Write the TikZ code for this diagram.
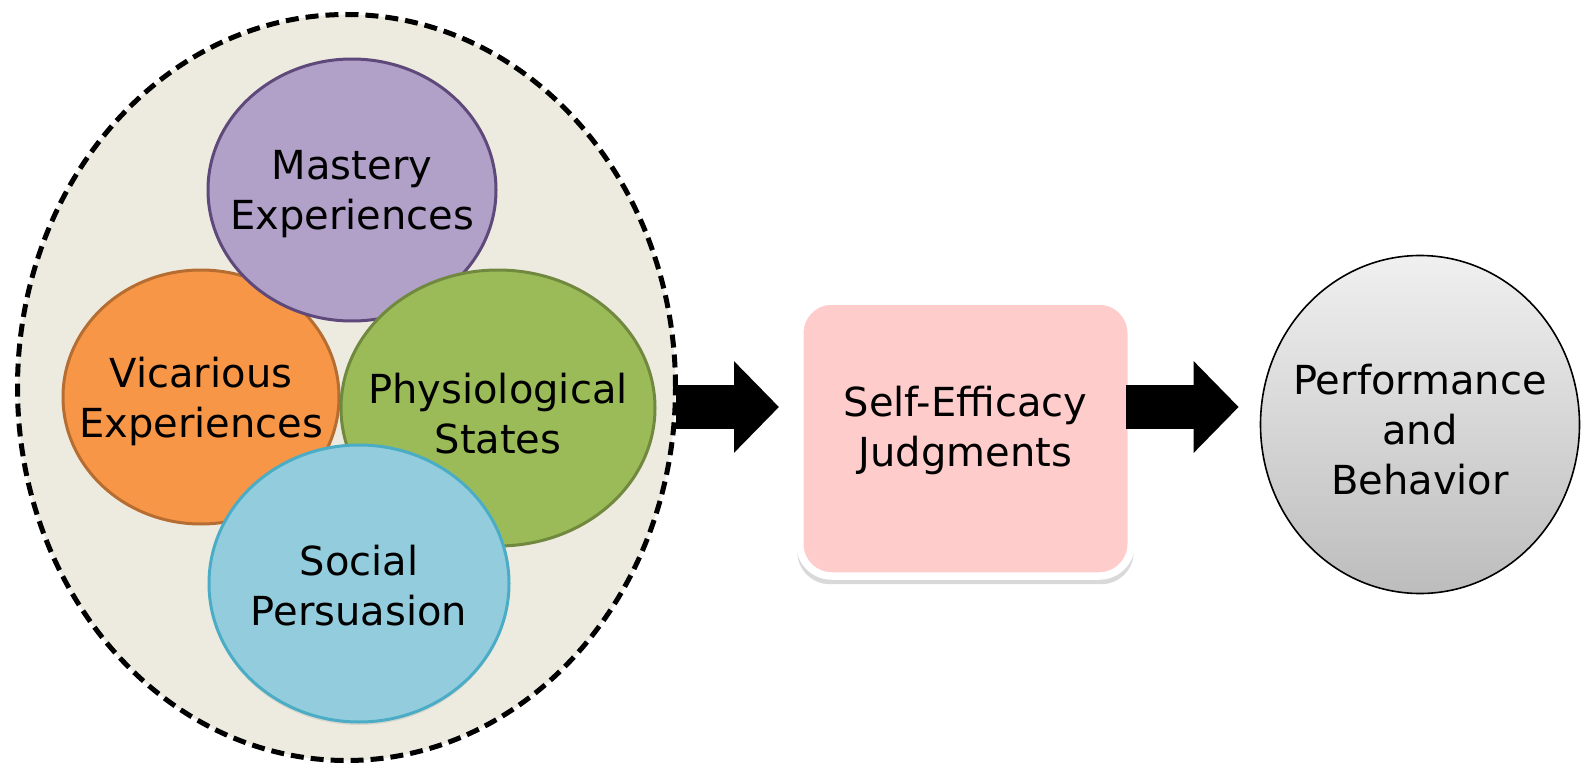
\documentclass[tikz,border=0pt]{standalone}
\usepackage{fontspec}
\setmainfont{DejaVu Sans}
\usetikzlibrary{shapes.geometric,arrows.meta,shadows}

\definecolor{sand}{HTML}{EDEBE0}
\definecolor{lilac}{HTML}{B1A0C7}
\definecolor{lilacline}{HTML}{5F497A}
\definecolor{tangerine}{HTML}{F79646}
\definecolor{tangerineline}{HTML}{B66D31}
\definecolor{olive}{HTML}{9BBB59}
\definecolor{oliveline}{HTML}{71893F}
\definecolor{sky}{HTML}{93CDDD}
\definecolor{skyline}{HTML}{4BACC6}
\definecolor{blush}{HTML}{FFCCCC}

\begin{document}
\begin{tikzpicture}[x=0.5pt,y=-0.5pt]

  \tikzstyle{caption}=[align=center,font=\fontsize{20}{25}\selectfont]
  \tikzstyle{source}=[ellipse,line width=1.5pt,inner sep=0pt]
  \tikzstyle{bigarrow}=[line width=22pt,-{Triangle[length=22.5pt,width=44.5pt]}]

  \useasboundingbox (0,0) rectangle (1581,765);

  % the four sources inside the dashed cloud
  \node[ellipse,draw,dash pattern=on 6.5pt off 3.5pt,line width=2.5pt,fill=sand,
        minimum width=329pt,minimum height=373pt] (sources) at (346.5,387.5) {};

  \node[source,fill=tangerine,draw=tangerineline,minimum width=138pt,minimum height=127pt,
        label={[caption,yshift=-2pt]center:Vicarious\\Experiences}] (vicarious) at (201,397) {};
  \node[source,fill=lilac,draw=lilacline,minimum width=144pt,minimum height=131pt,
        label={[caption,yshift=-2pt]center:Mastery\\Experiences}] (mastery) at (352,190) {};
  \node[source,fill=olive,draw=oliveline,minimum width=157pt,minimum height=138pt,
        label={[caption,yshift=-3pt]center:Physiological\\States}] (physio) at (498,408) {};
  \node[source,fill=sky,draw=skyline,minimum width=150pt,minimum height=138.5pt,
        drop shadow={opacity=0.2,shadow xshift=0pt,shadow yshift=-1.5pt},
        label={[caption,yshift=-1pt]center:Social\\Persuasion}] (social) at (359,583.5) {};

  \node[rectangle,rounded corners=16pt,draw=white,line width=3.75pt,fill=blush,
        minimum width=165.75pt,minimum height=137.5pt,
        drop shadow={opacity=0.3,shadow scale=1.015,shadow xshift=0pt,shadow yshift=-3pt},
        label={[caption,yshift=4.25pt]center:Self-Efficacy\\Judgments}] (selfbox) at (965.5,438.5) {};

  \node[ellipse,draw,line width=0.8pt,top color=black!6,bottom color=black!26,
        minimum width=159.5pt,minimum height=169pt,
        label={[caption,yshift=-2.5pt]center:Performance\\and\\Behavior}] (perf) at (1420,424.5) {};

  \coordinate (lvl) at (0,407);

  \draw[bigarrow,shorten <=-1pt,shorten >=8.5pt] (sources.east |- lvl) -- (selfbox.west |- lvl);
  \draw[bigarrow,shorten <=-4.4pt,shorten >=10.5pt] (selfbox.east |- lvl) -- (perf.west |- lvl);

  %\draw[step=100,gray,very thin] (0,0) grid (1581,765);

\end{tikzpicture}
\end{document}
